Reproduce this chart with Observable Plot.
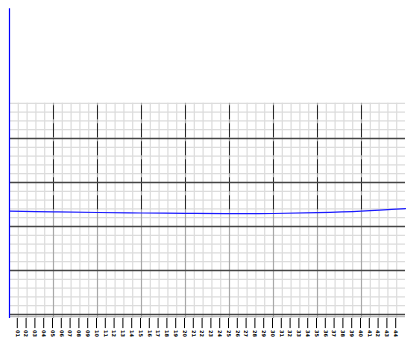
<!DOCTYPE html>
<html>
<head>
<meta charset="utf-8">
<script src="https://cdn.jsdelivr.net/npm/d3@7"></script>
<script src="https://cdn.jsdelivr.net/npm/@observablehq/plot@0.6"></script>
<style>
  html, body { margin: 0; padding: 0; background: #fff; }
  #chart svg { display: block; }
</style>
</head>
<body>
<div id="chart"></div>
<script>
// Series (x index, value)
const seriesX = [0, 5, 10, 15, 20, 25, 30, 35, 40, 45];
const seriesY = [2.348, 2.334, 2.318, 2.307, 2.300, 2.291, 2.295, 2.314, 2.348, 2.405];

// Tick positions and labels
const tickX = d3.range(1, 45);
const tickLabels = [
  "01","02","03","04","05","06","07","08","09","10","11",
  "12","13","14","15","16","17","18","19","20","21","22",
  "23","24","25","26","27","28","29","30","31","32","33",
  "34","35","36","37","38","39","40","41","42","43","44"
];

// Grid
const minorX = d3.range(1, 45).filter(d => d % 5 !== 0);
const majorX = [5, 10, 15, 20, 25, 30, 35, 40];
const minorY = d3.range(1, 25).map(d => d / 5).filter(d => Math.abs(d - Math.round(d)) > 1e-9);
const majorY = [0, 1, 2, 3, 4];
const gridTop = 4.8;

const data = seriesX.map((x, i) => ({x, y: seriesY[i]}));

const chart = Plot.plot({
  width: 406,
  height: 338,
  marginLeft: 9,
  marginRight: 1,
  marginTop: 6,
  marginBottom: 24,
  x: {domain: [0, 45], axis: null},
  y: {domain: [0, 7], axis: null},
  style: {background: "#fff", fontFamily: "DejaVu Sans", overflow: "visible"},
  marks: [
    Plot.ruleY(minorY, {x1: 0, x2: 45, stroke: "#dcdcdc", strokeWidth: 1.2}),
    Plot.ruleX(minorX, {y1: -0.09, y2: gridTop, stroke: "#dcdcdc", strokeWidth: 1.2}),
    Plot.ruleX(majorX, {y1: -0.09, y2: gridTop, stroke: "#a8a8a8", strokeWidth: 1.2}),
    Plot.ruleX(majorX, {y1: 2.38, y2: gridTop, stroke: "#2a2a2a", strokeWidth: 1, strokeDasharray: "14,4"}),
    Plot.ruleY(majorY, {x1: 0, x2: 45, stroke: "#444", strokeWidth: 1.3}),
    Plot.ruleY([-0.05], {x1: 0, x2: 45, stroke: "#aaa", strokeWidth: 1}),
    Plot.line(data, {x: "x", y: "y", stroke: "#1a1aff", strokeWidth: 1.2, curve: "catmull-rom"}),
    Plot.ruleX([0], {y1: -0.09, y2: 6.95, stroke: "#0000ff", strokeWidth: 1.2}),
    Plot.ruleX(tickX, {y1: -0.09, y2: -0.32, stroke: "#000", strokeWidth: 1, dx: -1}),
    Plot.text(tickX, {
      x: d => d, y: -0.355, text: (d, i) => tickLabels[i],
      rotate: 90, textAnchor: "start", fontSize: 5, fontWeight: "bold", dx: -1, fill: "#000"
    })
  ]
});
document.getElementById("chart").append(chart);
</script>
</body>
</html>
